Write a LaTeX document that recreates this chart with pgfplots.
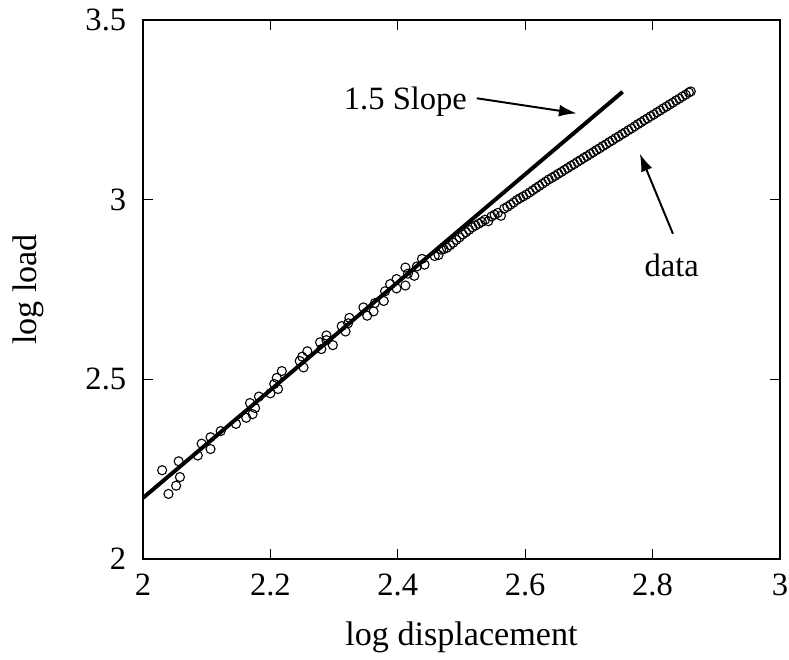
\documentclass[border=0pt]{standalone}
\usepackage{pgfplots}
\pgfplotsset{compat=1.18}
\usepackage{fontspec}
\setmainfont{Liberation Serif}
\usetikzlibrary{arrows.meta}
\begin{document}
\begin{tikzpicture}
\begin{axis}[
  scale only axis,
  width=322.9pt, height=273.3pt,
  xmin=2, xmax=3, ymin=2, ymax=3.5,
  xtick={2,2.2,2.4,2.6,2.8,3},
  ytick={2,2.5,3,3.5},
  xticklabels={2,2.2,2.4,2.6,2.8,3},
  yticklabels={2,2.5,3,3.5},
  tick align=inside,
  major tick length=5pt,
  axis line style={line width=1pt},
  every tick/.style={black, line width=0.6pt},
  tick label style={font=\fontsize{16.5}{19}\selectfont},
  xticklabel style={yshift=-4pt},
  yticklabel style={xshift=-5pt},
  label style={font=\fontsize{17.3}{20}\selectfont},
  xlabel={log displacement},
  ylabel={log load},
  xlabel style={at={(axis description cs:0.5,-0.1445)}, anchor=center},
  ylabel style={at={(axis description cs:-0.180,0.5)}, anchor=center},
  /pgf/number format/assume math mode=true,
]
% 1.5 slope line
\addplot[black, line width=2pt] coordinates {(2,2.17) (2.753,3.30)};
% data
\addplot[only marks, mark=o, mark size=2.3pt, mark options={line width=0.55pt, black}] coordinates {
(2.030,2.247) (2.040,2.181) (2.052,2.204) (2.056,2.272) (2.058,2.228)
(2.086,2.288) (2.092,2.321) (2.106,2.339) (2.106,2.306) (2.122,2.356)
(2.146,2.376) (2.162,2.393) (2.168,2.434) (2.172,2.403) (2.176,2.420)
(2.182,2.452) (2.200,2.461) (2.206,2.487) (2.210,2.504) (2.212,2.473)
(2.218,2.523) (2.246,2.551) (2.250,2.563) (2.252,2.533) (2.258,2.578)
(2.278,2.603) (2.280,2.584) (2.288,2.622) (2.288,2.609) (2.298,2.595)
(2.312,2.648) (2.318,2.633) (2.324,2.671) (2.322,2.656) (2.346,2.700)
(2.352,2.677) (2.362,2.689) (2.364,2.712) (2.378,2.718) (2.380,2.745)
(2.388,2.765) (2.398,2.779) (2.398,2.753) (2.412,2.811) (2.412,2.761)
(2.416,2.794) (2.426,2.788) (2.430,2.814) (2.438,2.835) (2.442,2.819)
(2.458,2.843) (2.464,2.846) (2.468,2.861)
(2.472,2.862) (2.477,2.866) (2.482,2.873) (2.487,2.880) (2.492,2.888)
(2.497,2.895) (2.502,2.903) (2.507,2.909) (2.512,2.916) (2.517,2.923)
(2.522,2.928) (2.527,2.933) (2.532,2.938) (2.537,2.944) (2.542,2.940)
(2.547,2.953) (2.552,2.958) (2.557,2.963) (2.562,2.955) (2.567,2.975)
(2.572,2.980) (2.577,2.986) (2.582,2.992) (2.587,2.999) (2.592,3.004)
(2.597,3.009) (2.602,3.014) (2.607,3.020) (2.612,3.026) (2.617,3.032)
(2.622,3.038) (2.627,3.044) (2.632,3.050) (2.637,3.056) (2.642,3.061)
(2.647,3.066) (2.652,3.072) (2.657,3.077) (2.662,3.083) (2.667,3.088)
(2.672,3.094) (2.677,3.099) (2.682,3.105) (2.687,3.110) (2.692,3.116)
(2.697,3.121) (2.702,3.127) (2.707,3.132) (2.712,3.138) (2.717,3.143)
(2.722,3.149) (2.727,3.154) (2.732,3.160) (2.737,3.165) (2.742,3.171)
(2.747,3.176) (2.752,3.182) (2.757,3.187) (2.762,3.193) (2.767,3.198)
(2.772,3.204) (2.777,3.210) (2.782,3.215) (2.787,3.221) (2.792,3.226)
(2.797,3.232) (2.802,3.237) (2.807,3.243) (2.812,3.248) (2.817,3.254)
(2.822,3.259) (2.827,3.265) (2.832,3.270) (2.837,3.276) (2.842,3.281)
(2.847,3.287) (2.852,3.292) (2.857,3.298) (2.860,3.301)
};
\node[font=\fontsize{16.5}{19}\selectfont] at (axis cs:2.412,3.272) {1.5 Slope};
\draw[-{Latex[length=9pt,width=6pt]}, line width=1pt] (axis cs:2.524,3.282) -- (axis cs:2.681,3.240);
\node[font=\fontsize{16.5}{19}\selectfont] at (axis cs:2.830,2.818) {data};
\draw[-{Latex[length=9pt,width=6pt]}, line width=1pt] (axis cs:2.832,2.905) -- (axis cs:2.780,3.128);
\end{axis}
\pgfresetboundingbox
\path[use as bounding box] ([shift={(-72.5pt,-50.7pt)}]current axis.south west) rectangle ([shift={(4.6pt,10.1pt)}]current axis.north east);
\end{tikzpicture}
\end{document}
